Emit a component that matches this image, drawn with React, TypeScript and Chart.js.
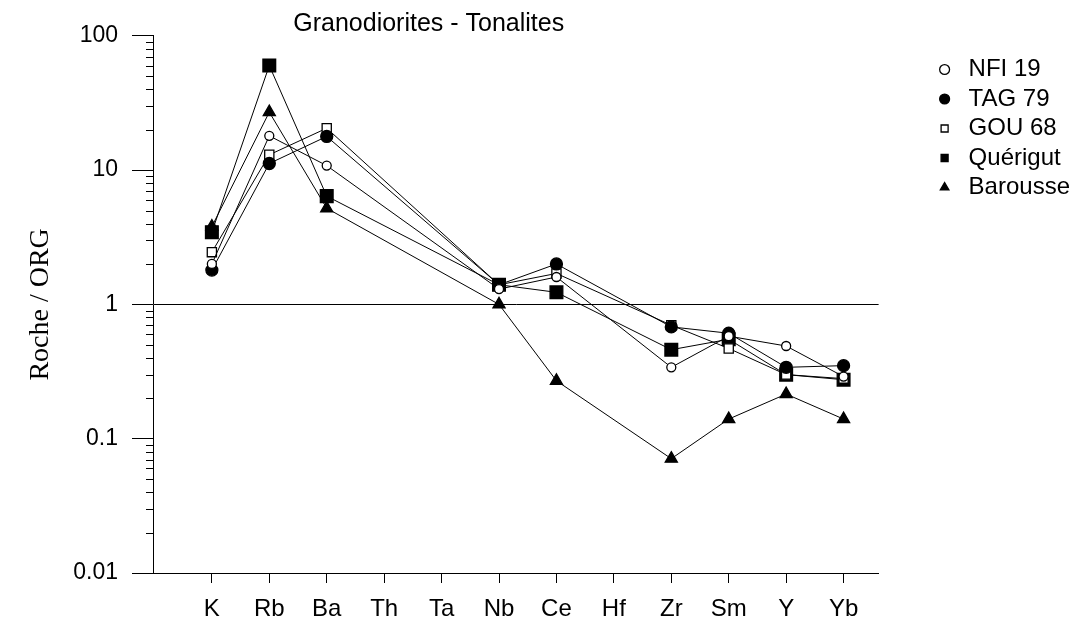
import React, { useEffect, useRef } from 'react';
import { Chart, registerables } from 'chart.js';

Chart.register(...registerables);

const titleText = 'Granodiorites - Tonalites';
const yTitleText = 'Roche / ORG';
const categories = ['K', 'Rb', 'Ba', 'Th', 'Ta', 'Nb', 'Ce', 'Hf', 'Zr', 'Sm', 'Y', 'Yb'];
const nfi19 = [2.0, 18, 10.8, null, null, 1.3, 1.6, null, 0.34, 0.58, 0.49, 0.29];
const tag79 = [1.8, 11.2, 17.8, null, null, 1.4, 2.0, null, 0.68, 0.61, 0.34, 0.35];
const gou68 = [2.45, 13, 20.5, null, null, 1.4, 1.7, null, 0.7, 0.47, 0.3, 0.28];
const querigut = [3.45, 60, 6.4, null, null, 1.4, 1.23, null, 0.46, 0.55, 0.3, 0.275];
const barousse = [3.8, 27, 5.2, null, null, 1.0, 0.27, null, 0.071, 0.14, 0.215, 0.14];
const seriesLabels = ['NFI 19', 'TAG 79', 'GOU 68', 'Quérigut', 'Barousse'];
const yMajorTicks = [0.01, 0.1, 1, 10, 100];
const yTickLabels = ['0.01', '0.1', '1', '10', '100'];
const minorMultipliers = [2, 3, 4, 5, 6, 7, 8, 9];

const SANS = '"Liberation Sans", Arial, Helvetica, sans-serif';
const SERIF = '"Liberation Serif", "Times New Roman", serif';

const toPoints = (vals: (number | null)[]) => vals.map((v, i) => ({ x: i, y: v }));

const yTickValues: { value: number; major: boolean }[] = [];
yMajorTicks.forEach((m, i) => {
  yTickValues.push({ value: m, major: true });
  if (i < yMajorTicks.length - 1) {
    minorMultipliers.forEach((k) => yTickValues.push({ value: +(k * m).toPrecision(6), major: false }));
  }
});

const titlePlugin = {
  id: 'plotTitle',
  afterDraw(chart: any) {
    const { ctx, chartArea } = chart;
    ctx.save();
    ctx.font = `25px ${SANS}`;
    ctx.fillStyle = '#000';
    ctx.textAlign = 'center';
    ctx.textBaseline = 'middle';
    ctx.fillText(titleText, chartArea.left + (chartArea.right - chartArea.left) * 0.38, chartArea.top - 12);
    ctx.restore();
  },
};

const minorTickPlugin = {
  id: 'minorTicks',
  afterDraw(chart: any) {
    const { ctx, chartArea } = chart;
    const y = chart.scales.y;
    ctx.save();
    ctx.strokeStyle = '#000';
    ctx.lineWidth = 1;
    ctx.beginPath();
    y.ticks.forEach((t: any) => {
      if (!t.major) {
        const py = Math.round(y.getPixelForValue(t.value)) + 0.5;
        ctx.moveTo(chartArea.left - 7, py);
        ctx.lineTo(chartArea.left, py);
      }
    });
    ctx.stroke();
    ctx.restore();
  },
};

export default function App() {
  const ref = useRef<HTMLCanvasElement | null>(null);
  useEffect(() => {
    if (!ref.current) return;
    const mk = (label: string, vals: (number | null)[], style: string, radius: number, filled: boolean) => ({
      label,
      data: toPoints(vals),
      borderColor: '#000',
      backgroundColor: filled ? '#000' : '#fff',
      borderWidth: 1,
      pointStyle: style,
      pointRadius: radius,
      pointHoverRadius: radius,
      pointBackgroundColor: filled ? '#000' : '#fff',
      pointBorderColor: '#000',
      pointBorderWidth: 1.3,
      tension: 0,
      spanGaps: true,
      fill: false,
    });
    const chart = new Chart(ref.current, {
      type: 'line',
      data: {
        datasets: [
          mk(seriesLabels[0], nfi19, 'circle', 4.5, false),
          mk(seriesLabels[1], tag79, 'circle', 6, true),
          mk(seriesLabels[2], gou68, 'rect', 6.5, false),
          mk(seriesLabels[3], querigut, 'rect', 9, true),
          mk(seriesLabels[4], barousse, 'triangle', 7, true),
        ] as any,
      },
      options: {
        animation: false,
        responsive: false,
        maintainAspectRatio: false,
        layout: { padding: { top: 24, right: 0, bottom: 0, left: 0 } },
        plugins: {
          tooltip: { enabled: false },
          title: { display: false },
          legend: {
            position: 'right',
            align: 'start',
            title: { display: true, text: ' ', font: { size: 15, lineHeight: '20px' }, padding: 0 },
            labels: {
              usePointStyle: true,
              boxHeight: 7,
              boxWidth: 24,
              padding: 5.5,
              color: '#000',
              font: { family: SANS, size: 24 },
            },
          },
        },
        scales: {
          x: {
            type: 'linear',
            min: -1.025,
            max: 11.61,
            afterBuildTicks: (s: any) => {
              s.ticks = categories.map((_, i) => ({ value: i }));
            },
            afterFit: (s: any) => {
              s.height = 50;
            },
            ticks: {
              autoSkip: false,
              maxRotation: 0,
              padding: 12,
              color: '#000',
              font: { family: SANS, size: 24 },
              callback: (v: any) => categories[v] ?? '',
            },
            grid: { drawOnChartArea: false, drawTicks: true, tickLength: 10, tickColor: '#000' },
            border: { display: true, color: '#000', width: 1 },
          },
          y: {
            type: 'logarithmic',
            min: 0.01,
            max: 100,
            afterBuildTicks: (s: any) => {
              s.ticks = yTickValues.map((t) => ({ value: t.value, major: t.major }));
            },
            afterFit: (s: any) => {
              s.width = 145;
            },
            ticks: {
              autoSkip: false,
              padding: 14,
              color: '#000',
              font: { family: SANS, size: 23 },
              callback: (v: any) => {
                const i = yMajorTicks.indexOf(v);
                return i >= 0 ? yTickLabels[i] : '';
              },
            },
            grid: {
              drawOnChartArea: true,
              drawTicks: true,
              tickLength: 21,
              lineWidth: 1,
              color: (c: any) => (c.tick && c.tick.value === 1 ? '#000' : 'rgba(0,0,0,0)'),
              tickColor: (c: any) => (c.tick && c.tick.major ? '#000' : 'rgba(0,0,0,0)'),
            },
            border: { display: true, color: '#000', width: 1 },
            title: {
              display: true,
              text: yTitleText,
              color: '#000',
              font: { family: SERIF, size: 28 },
              padding: { top: 16, bottom: 0 },
            },
          },
          yPad: {
            type: 'linear',
            position: 'right',
            display: true,
            grid: { display: false },
            border: { display: false },
            ticks: { display: false },
            afterFit: (s: any) => {
              s.width = 48.5;
            },
          },
        },
      } as any,
      plugins: [titlePlugin, minorTickPlugin],
    });
    return () => chart.destroy();
  }, []);
  return (
    <div style={{ position: 'fixed', left: 8, top: 8, width: 1072, height: 615 }}>
      <canvas ref={ref} width={1072} height={615} style={{ display: 'block' }} />
    </div>
  );
}
